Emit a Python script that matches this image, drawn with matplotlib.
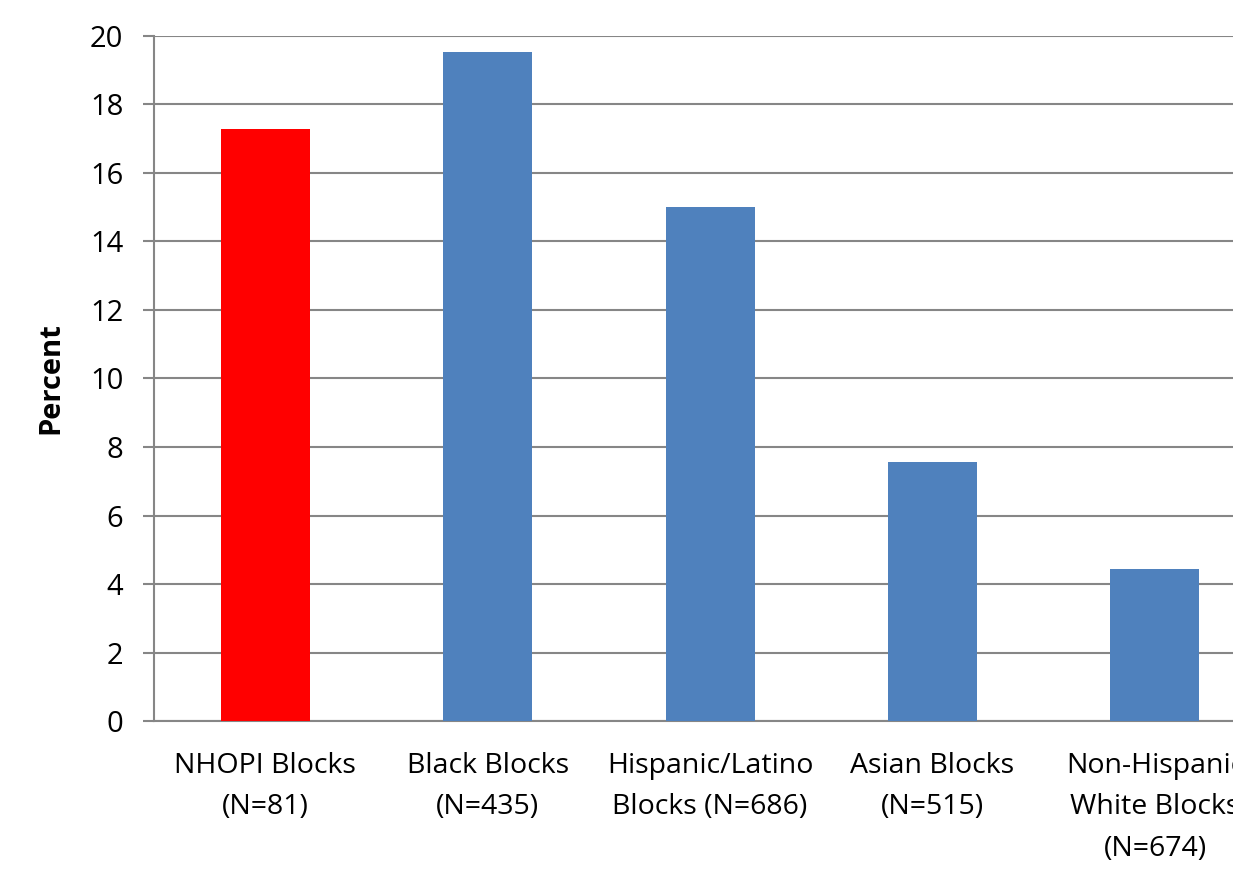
import numpy as np
import matplotlib
matplotlib.use("Agg")
import matplotlib.pyplot as plt

plt.rcParams['font.family'] = ['Open Sans', 'DejaVu Sans']

categories = ["NHOPI Blocks\n(N=81)", "Black Blocks\n(N=435)",
              "Hispanic/Latino\nBlocks (N=686)", "Asian Blocks\n(N=515)",
              "Non-Hispanic\nWhite Blocks\n(N=674)"]
values = [17.28, 19.54, 15.02, 7.57, 4.43]
colors = ["#FF0000", "#4F81BD", "#4F81BD", "#4F81BD", "#4F81BD"]
yticks = [0, 2, 4, 6, 8, 10, 12, 14, 16, 18, 20]

fig = plt.figure(figsize=(12.33, 8.71), dpi=100)
ax = fig.add_axes([0.1249, 0.1722, 0.902, 0.7865])

x = np.arange(len(categories))
ax.bar(x, values, width=0.4, color=colors, zorder=3)

ax.set_xlim(-0.5, 4.5)
ax.set_ylim(0, 20)
ax.set_yticks(yticks)
ax.set_xticks(x)
ax.set_xticklabels(categories, fontsize=20.5, linespacing=1.65)
ax.tick_params(axis='y', labelsize=21, length=8, width=1.5, color='#868686', pad=14)
ax.tick_params(axis='x', length=0, pad=22)
ax.yaxis.grid(True, color='#868686', linewidth=1.5, zorder=0)

for s in ['top', 'right']:
    ax.spines[s].set_visible(False)
ax.spines['left'].set_color('#868686')
ax.spines['left'].set_linewidth(1.5)
ax.spines['bottom'].set_color('#868686')
ax.spines['bottom'].set_linewidth(1.5)

ax.set_ylabel("Percent", fontsize=21, fontweight='bold', labelpad=18)

fig.savefig("out.png", dpi=100)
